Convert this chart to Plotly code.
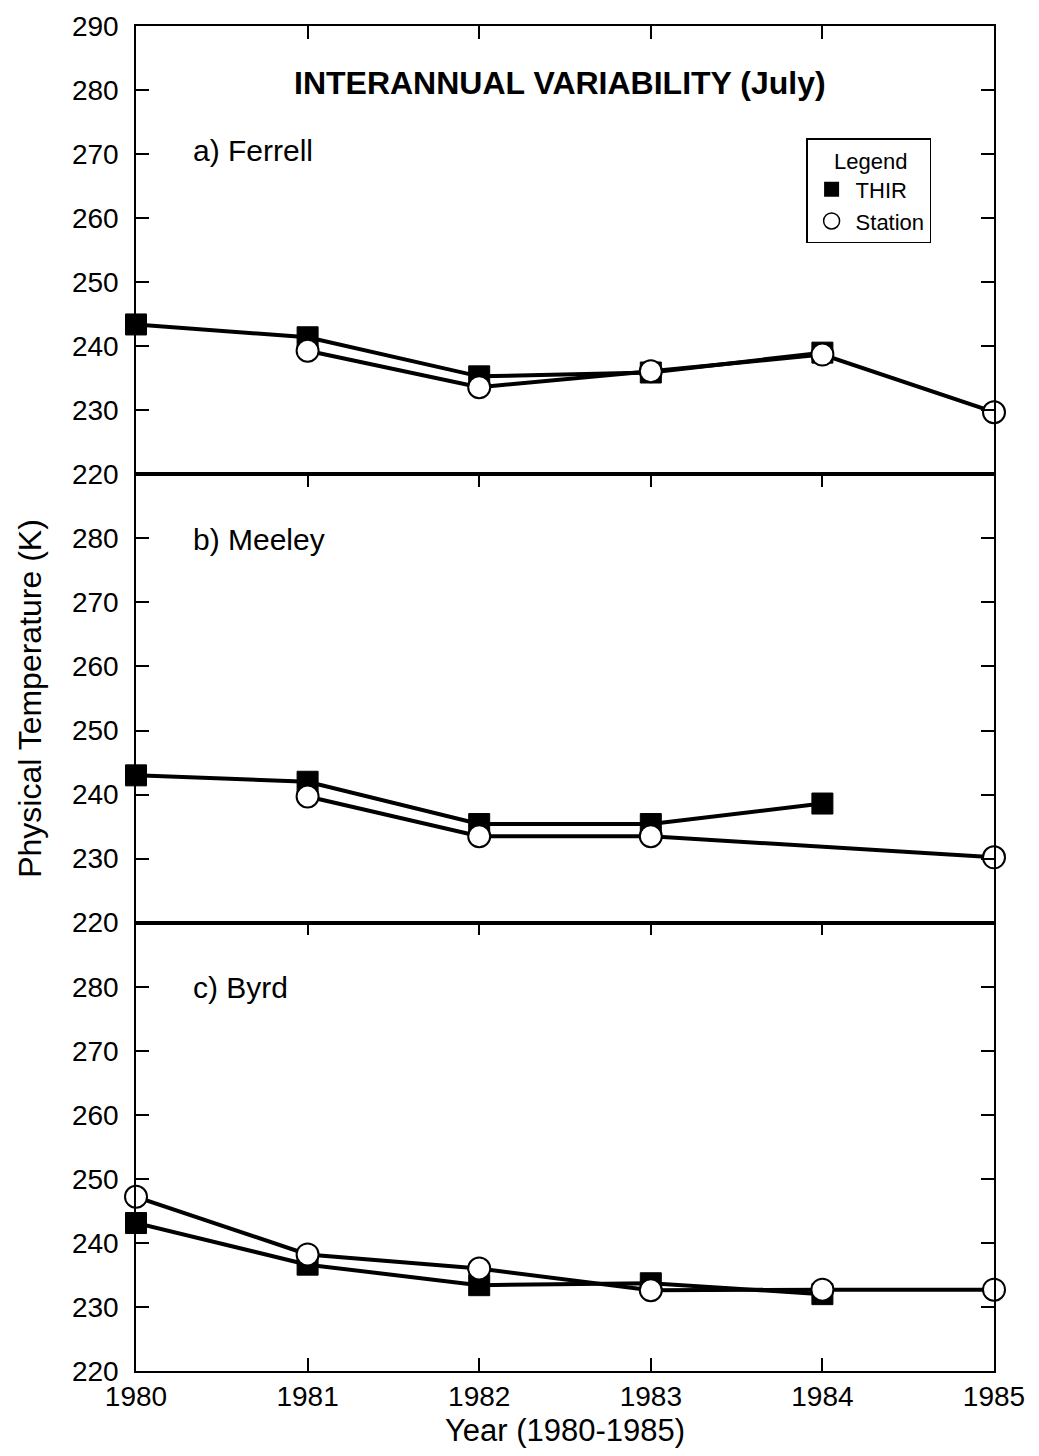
import plotly.graph_objects as go
from plotly.subplots import make_subplots

years = [1980, 1981, 1982, 1983, 1984, 1985]

ferrell_thir = [243.4, 241.4, 235.3, 235.9, 239.0, None]
ferrell_station = [None, 239.3, 233.6, 236.1, 238.7, 229.7]

meeley_thir = [243.0, 242.0, 235.4, 235.4, 238.6, None]
meeley_station = [None, 239.7, 233.5, 233.5, None, 230.2]

byrd_thir = [243.1, 236.6, 233.4, 233.7, 232.0, None]
byrd_station = [247.2, 238.2, 236.0, 232.6, 232.7, 232.7]

panel_labels = ["a) Ferrell", "b) Meeley", "c) Byrd"]
panel_label_y = [270.5, 279.8, 279.9]
title_text = "INTERANNUAL VARIABILITY (July)"
xtick_vals = years
ytick_top = [220, 230, 240, 250, 260, 270, 280, 290]
ytick_other = [220, 230, 240, 250, 260, 270, 280]

FONT = "Liberation Sans, Arial, Helvetica, sans-serif"

fig = make_subplots(rows=3, cols=1, shared_xaxes=True, vertical_spacing=0)

panels = [
    (ferrell_thir, ferrell_station),
    (meeley_thir, meeley_station),
    (byrd_thir, byrd_station),
]

for i, (thir, station) in enumerate(panels, start=1):
    fig.add_trace(go.Scatter(
        x=years, y=thir, mode="lines+markers", showlegend=False,
        connectgaps=False, cliponaxis=False,
        line=dict(color="black", width=4),
        marker=dict(symbol="square", size=21, color="black",
                    line=dict(color="black", width=1)),
    ), row=i, col=1)
    fig.add_trace(go.Scatter(
        x=years, y=station, mode="lines+markers", showlegend=False,
        connectgaps=True, cliponaxis=False,
        line=dict(color="black", width=4),
        marker=dict(symbol="circle", size=22, color="white",
                    line=dict(color="black", width=2)),
    ), row=i, col=1)

# legend-only traces
fig.add_trace(go.Scatter(x=[None], y=[None], mode="markers", name="THIR",
                         marker=dict(symbol="square", size=15, color="black")), row=1, col=1)
fig.add_trace(go.Scatter(x=[None], y=[None], mode="markers", name="Station",
                         marker=dict(symbol="circle-open", size=16, color="black",
                                     line=dict(width=1.5))), row=1, col=1)

axis_common = dict(showline=True, linecolor="black", linewidth=1.5,
                   ticks="inside", ticklen=13, tickwidth=1.5, tickcolor="black",
                   showgrid=False, zeroline=False, ticklabeloverflow="allow",
                   automargin=False,
                   tickfont=dict(family=FONT, size=28, color="black"))

for i in range(1, 4):
    fig.update_yaxes(range=[220, 290], tickvals=ytick_top if i == 1 else ytick_other,
                     mirror="ticks", ticklabelstandoff=10, row=i, col=1, **axis_common)
    if i < 3:
        fig.update_xaxes(range=[1980, 1985], tickvals=xtick_vals, side="top",
                         mirror=True, showticklabels=False, row=i, col=1, **axis_common)
    else:
        fig.update_xaxes(range=[1980, 1985], tickvals=xtick_vals, side="bottom",
                         mirror="ticks", showticklabels=True, ticklabelstandoff=0,
                         row=i, col=1, **axis_common)

fig.update_xaxes(title=dict(text="Year (1980-1985)", standoff=17,
                            font=dict(family=FONT, size=31, color="black")), row=3, col=1)
fig.update_yaxes(title=dict(text="Physical Temperature (K)", standoff=21,
                            font=dict(family=FONT, size=32, color="black")), row=2, col=1)

for i, (lbl, ly) in enumerate(zip(panel_labels, panel_label_y), start=1):
    xref = "x" if i == 1 else f"x{i}"
    yref = "y" if i == 1 else f"y{i}"
    fig.add_annotation(x=1980.32, y=ly, xref=xref, yref=yref, text=lbl,
                       showarrow=False, xanchor="left", yanchor="middle",
                       font=dict(family=FONT, size=30, color="black"))

fig.add_annotation(x=0.494, y=0.9575, xref="paper", yref="paper",
                   text=f"<b>{title_text}</b>", showarrow=False,
                   xanchor="center", yanchor="middle",
                   font=dict(family=FONT, size=32, color="black"))

fig.update_layout(
    width=1023, height=1440,
    margin=dict(l=128, r=37, t=18, b=77, autoexpand=False),
    paper_bgcolor="white", plot_bgcolor="white",
    font=dict(family=FONT, color="black"),
    legend=dict(
        x=0.781, y=0.9164, xanchor="left", yanchor="top",
        bordercolor="black", borderwidth=1.5, bgcolor="white",
        title=dict(text="\u00a0\u00a0\u00a0\u00a0Legend", font=dict(family=FONT, size=22, color="black")),
        font=dict(family=FONT, size=22, color="black"),
        itemwidth=38, tracegroupgap=0,
    ),
)

fig.write_html("out.html")
